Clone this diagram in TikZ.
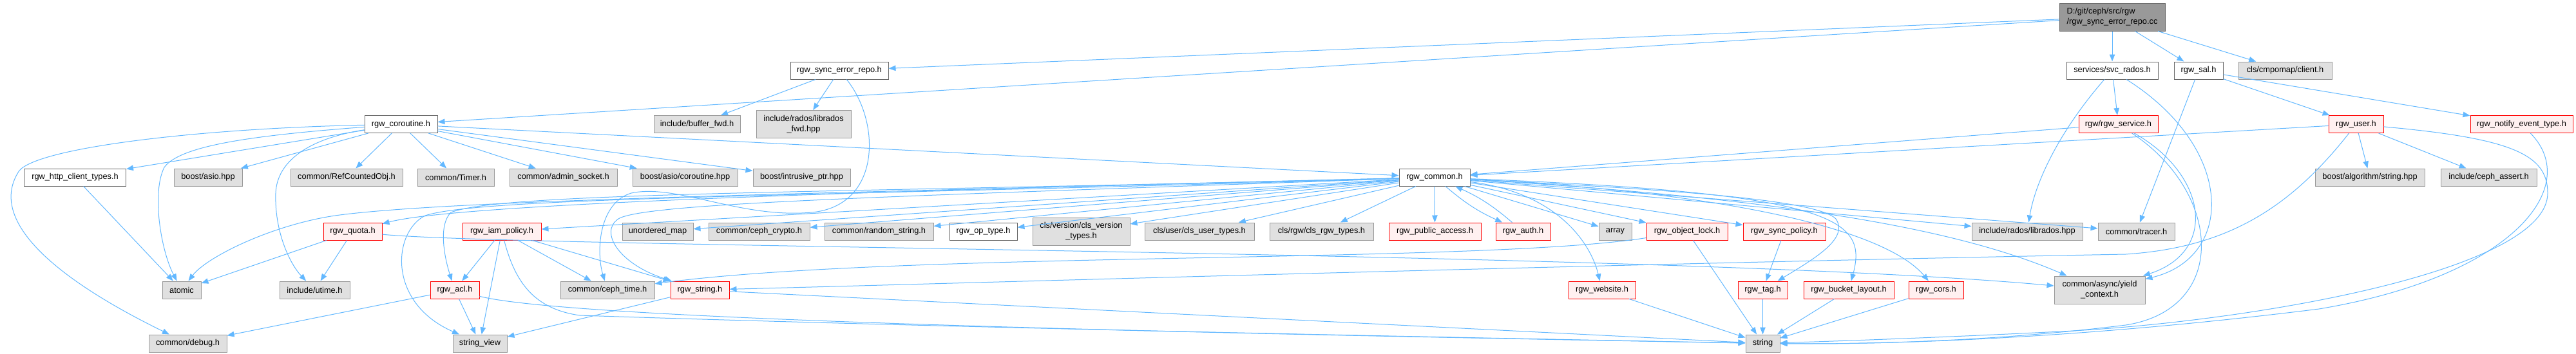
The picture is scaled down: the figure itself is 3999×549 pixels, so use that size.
\documentclass[tikz,border=0pt]{standalone}
\usepackage{fontspec}
\setmainfont{Liberation Sans}
\usepackage{xcolor}
\definecolor{edgeblue}{HTML}{63B8FF}
\definecolor{grayfill}{HTML}{E0E0E0}
\definecolor{grayline}{HTML}{999999}
\definecolor{darkline}{HTML}{666666}
\definecolor{redfill}{HTML}{FFF0F0}
\definecolor{redline}{HTML}{FF0000}
\definecolor{rootfill}{HTML}{999999}
\usepackage{tikz}
\usetikzlibrary{arrows.meta}
\tikzset{
    file/.style = {rectangle, line width=1pt, minimum height=27pt,
                   inner xsep=2pt, inner ysep=1pt, align=center,
                   font=\fontsize{12.8}{16}\selectfont},
    sysfile/.style = {file, draw=grayline, fill=grayfill},
    docfile/.style = {file, draw=darkline, fill=white},
    redfile/.style = {file, draw=redline, fill=redfill},
    rootfile/.style = {file, draw=darkline, fill=rootfill, align=left, minimum height=43pt},
    twoline/.style = {minimum height=43pt},
    arrow/.style = {-{Triangle[length=11pt, width=8.5pt]}, line width=1pt, color=edgeblue},
}

\begin{document}
\begin{tikzpicture}[x=1pt, y=-1pt]
        \useasboundingbox (0,0) rectangle (3999,549);
        % top rows
        \node[rootfile, minimum width=164] (root) at (3279,26.5) {D:/git/ceph/src/rgw\\/rgw\_sync\_error\_repo.cc};
        \node[docfile, minimum width=152] (repo) at (1303,109.5) {rgw\_sync\_error\_repo.h};
        \node[docfile, minimum width=142] (svcrados) at (3279,109.5) {services/svc\_rados.h};
        \node[docfile, minimum width=76] (sal) at (3413,109.5) {rgw\_sal.h};
        \node[sysfile, minimum width=145] (cmpomap) at (3547.5,109.5) {cls/cmpomap/client.h};
        \node[docfile, minimum width=113] (coroutine) at (622.5,193) {rgw\_coroutine.h};
        \node[sysfile, minimum width=134] (bufferfwd) at (1082,193) {include/buffer\_fwd.h};
        \node[sysfile, twoline, minimum width=147] (libradosfwd) at (1247.5,193) {include/rados/librados\\\_fwd.hpp};
        \node[redfile, minimum width=123] (service) at (3288.5,193) {rgw/rgw\_service.h};
        \node[redfile, minimum width=85] (user) at (3657.5,193) {rgw\_user.h};
        \node[redfile, minimum width=159] (notify) at (3914.5,193) {rgw\_notify\_event\_type.h};
        % row of rgw_common.h
        \node[docfile, minimum width=158] (httpclient) at (116.5,275.5) {rgw\_http\_client\_types.h};
        \node[sysfile, minimum width=106] (asio) at (323,275.5) {boost/asio.hpp};
        \node[sysfile, minimum width=174] (refcounted) at (538,275.5) {common/RefCountedObj.h};
        \node[sysfile, minimum width=119] (timer) at (707.5,275.5) {common/Timer.h};
        \node[sysfile, minimum width=167] (adminsocket) at (874.5,275.5) {common/admin\_socket.h};
        \node[sysfile, minimum width=163] (asiocoro) at (1063.5,275.5) {boost/asio/coroutine.hpp};
        \node[sysfile, minimum width=151] (intrusive) at (1244.5,275.5) {boost/intrusive\_ptr.hpp};
        \node[docfile, minimum width=110] (common) at (2227,275.5) {rgw\_common.h};
        \node[sysfile, minimum width=170] (algostring) at (3679,275.5) {boost/algorithm/string.hpp};
        \node[sysfile, minimum width=149] (cephassert) at (3863.5,275.5) {include/ceph\_assert.h};
        % headers used by rgw_common.h
        \node[redfile, minimum width=91] (quota) at (547.5,359.5) {rgw\_quota.h};
        \node[redfile, minimum width=122] (iampolicy) at (779,359.5) {rgw\_iam\_policy.h};
        \node[sysfile, minimum width=110] (unorderedmap) at (1021,359.5) {unordered\_map};
        \node[sysfile, minimum width=157] (cephcrypto) at (1178.5,359.5) {common/ceph\_crypto.h};
        \node[sysfile, minimum width=169] (randomstring) at (1364.5,359.5) {common/random\_string.h};
        \node[docfile, minimum width=105] (optype) at (1526.5,359.5) {rgw\_op\_type.h};
        \node[sysfile, twoline, minimum width=151] (clsversion) at (1678.5,359.5) {cls/version/cls\_version\\\_types.h};
        \node[sysfile, minimum width=170] (clsuser) at (1862,359.5) {cls/user/cls\_user\_types.h};
        \node[sysfile, minimum width=161] (clsrgw) at (2051.5,359.5) {cls/rgw/cls\_rgw\_types.h};
        \node[redfile, minimum width=143] (publicaccess) at (2227.5,359.5) {rgw\_public\_access.h};
        \node[redfile, minimum width=85] (auth) at (2364.5,359.5) {rgw\_auth.h};
        \node[sysfile, minimum width=51] (array) at (2507.5,359.5) {array};
        \node[redfile, minimum width=126] (objectlock) at (2619,359.5) {rgw\_object\_lock.h};
        \node[redfile, minimum width=128] (syncpolicy) at (2770,359.5) {rgw\_sync\_policy.h};
        \node[sysfile, minimum width=172] (librados) at (3147,359.5) {include/rados/librados.hpp};
        \node[sysfile, minimum width=119] (tracer) at (3316.5,359.5) {common/tracer.h};
        % lower rows
        \node[sysfile, minimum width=60] (atomic) at (282,450.5) {atomic};
        \node[sysfile, minimum width=109] (utime) at (488.5,450.5) {include/utime.h};
        \node[redfile, minimum width=76] (acl) at (706,450.5) {rgw\_acl.h};
        \node[sysfile, minimum width=146] (cephtime) at (943,450.5) {common/ceph\_time.h};
        \node[redfile, minimum width=91] (rgwstring) at (1086.5,450.5) {rgw\_string.h};
        \node[redfile, minimum width=104] (website) at (2487,450.5) {rgw\_website.h};
        \node[redfile, minimum width=77] (tag) at (2736.5,450.5) {rgw\_tag.h};
        \node[redfile, minimum width=140] (bucketlayout) at (2870,450.5) {rgw\_bucket\_layout.h};
        \node[redfile, minimum width=85] (cors) at (3005.5,450.5) {rgw\_cors.h};
        \node[sysfile, twoline, minimum width=141] (yield) at (3259.5,450.5) {common/async/yield\\\_context.h};
        \node[sysfile, minimum width=121] (debug) at (291.5,533.5) {common/debug.h};
        \node[sysfile, minimum width=84] (stringview) at (745,533.5) {string\_view};
        \node[sysfile, minimum width=53] (string) at (2736.5,533.5) {string};

        % includes of the source file
        \draw[arrow] (root) -- (repo);
        \draw[arrow] (root) -- (coroutine);
        \draw[arrow] (root) -- (svcrados);
        \draw[arrow] (root) -- (sal);
        \draw[arrow] (root) -- (cmpomap);
        \draw[arrow] (repo) -- (bufferfwd);
        \draw[arrow] (repo) -- (libradosfwd);
        \draw[arrow] (repo) .. controls (1368,190) and (1368,320) .. (1260,330)
            .. controls (1150,340) and (1050,285) .. (980,300)
            .. controls (930,315) and (925,390) .. (cephtime);
        % rgw_coroutine.h
        \draw[arrow] (coroutine) -- (httpclient);
        \draw[arrow] (coroutine) -- (asio);
        \draw[arrow] (coroutine) -- (refcounted);
        \draw[arrow] (coroutine) -- (timer);
        \draw[arrow] (coroutine) -- (adminsocket);
        \draw[arrow] (coroutine) -- (asiocoro);
        \draw[arrow] (coroutine) -- (intrusive);
        \draw[arrow] (coroutine) -- (common);
        \draw[arrow] (coroutine) .. controls (400,210) and (280,225) .. (255,260)
            .. controls (235,300) and (250,390) .. (atomic);
        \draw[arrow] (coroutine) .. controls (480,215) and (430,250) .. (428,300)
            .. controls (426,360) and (450,410) .. (utime);
        \draw[arrow] (coroutine) .. controls (300,200) and (60,230) .. (30,265)
            .. controls (-20,340) and (80,430) .. (debug);
        \draw[arrow] (httpclient) -- (atomic);
        % services and sal
        \draw[arrow] (svcrados) .. controls (3200,200) and (3160,280) .. (librados);
        \draw[arrow] (svcrados) -- (service);
        \draw[arrow] (svcrados) .. controls (3470,230) and (3470,400) .. (yield);
        \draw[arrow] (sal) -- (tracer);
        \draw[arrow] (sal) -- (user);
        \draw[arrow] (sal) -- (notify);
        \draw[arrow] (service) -- (common);
        \draw[arrow] (service) .. controls (3425,270) and (3445,390) .. (yield);
        \draw[arrow] (service) .. controls (3450,300) and (3460,480) .. (3300,505)
            .. controls (3100,530) and (2900,535) .. (string);
        \draw[arrow] (user) -- (common);
        \draw[arrow] (user) -- (algostring);
        \draw[arrow] (user) -- (cephassert);
        \draw[arrow] (user) .. controls (3550,330) and (3450,385) .. (3300,395)
            .. controls (2500,410) and (1500,440) .. (rgwstring);
        \draw[arrow] (user) .. controls (3900,215) and (3955,240) .. (3955,300)
            .. controls (3955,420) and (3500,500) .. (3200,515)
            .. controls (3000,525) and (2850,530) .. (string);
        \draw[arrow] (notify) .. controls (4010,290) and (3900,430) .. (3600,480)
            .. controls (3200,530) and (2900,535) .. (string);
        % rgw_common.h
        \draw[arrow] (common) .. controls (1200,300) and (700,320) .. (quota);
        \draw[arrow] (common) .. controls (1300,300) and (700,310) .. (520,335)
            .. controls (420,350) and (320,400) .. (atomic);
        \draw[arrow] (common) .. controls (1300,305) and (750,305) .. (660,335)
            .. controls (610,360) and (600,470) .. (stringview);
        \draw[arrow] (common) .. controls (1300,300) and (780,298) .. (700,330)
            .. controls (680,350) and (690,400) .. (acl);
        \draw[arrow] (common) -- (iampolicy);
        \draw[arrow] (common) .. controls (1400,305) and (1000,315) .. (960,340)
            .. controls (930,360) and (960,410) .. (rgwstring);
        \draw[arrow] (common) -- (unorderedmap);
        \draw[arrow] (common) -- (cephcrypto);
        \draw[arrow] (common) -- (randomstring);
        \draw[arrow] (common) -- (optype);
        \draw[arrow] (common) -- (clsversion);
        \draw[arrow] (common) -- (clsuser);
        \draw[arrow] (common) -- (clsrgw);
        \draw[arrow] (common) -- (publicaccess);
        \draw[arrow] (common) to[bend right=8] (auth);
        \draw[arrow] (auth) to[bend right=8] (common);
        \draw[arrow] (common) -- (array);
        \draw[arrow] (common) -- (objectlock);
        \draw[arrow] (common) -- (syncpolicy);
        \draw[arrow] (common) .. controls (2420,300) and (2470,380) .. (website);
        \draw[arrow] (common) .. controls (2600,295) and (2820,310) .. (2850,340)
            .. controls (2870,370) and (2820,400) .. (tag);
        \draw[arrow] (common) .. controls (2850,300) and (2900,340) .. (bucketlayout);
        \draw[arrow] (common) .. controls (2700,300) and (2930,360) .. (cors);
        \draw[arrow] (common) -- (librados);
        \draw[arrow] (common) -- (tracer);
        \draw[arrow] (common) .. controls (2800,310) and (3050,360) .. (yield);
        % second level headers
        \draw[arrow] (quota) -- (atomic);
        \draw[arrow] (quota) -- (utime);
        \draw[arrow] (quota) .. controls (800,385) and (2600,390) .. (yield);
        \draw[arrow] (iampolicy) -- (acl);
        \draw[arrow] (iampolicy) -- (stringview);
        \draw[arrow] (iampolicy) -- (cephtime);
        \draw[arrow] (iampolicy) -- (rgwstring);
        \draw[arrow] (iampolicy) .. controls (800,440) and (830,480) .. (900,490)
            .. controls (1500,510) and (2300,525) .. (string);
        \draw[arrow] (acl) -- (debug);
        \draw[arrow] (acl) -- (stringview);
        \draw[arrow] (acl) .. controls (900,500) and (2000,520) .. (string);
        \draw[arrow] (rgwstring) -- (stringview);
        \draw[arrow] (rgwstring) -- (string);
        \draw[arrow] (objectlock) .. controls (2300,410) and (1400,390) .. (cephtime);
        \draw[arrow] (objectlock) -- (string);
        \draw[arrow] (syncpolicy) -- (tag);
        \draw[arrow] (website) -- (string);
        \draw[arrow] (tag) -- (string);
        \draw[arrow] (bucketlayout) -- (string);
        \draw[arrow] (cors) -- (string);
\end{tikzpicture}
\end{document}
